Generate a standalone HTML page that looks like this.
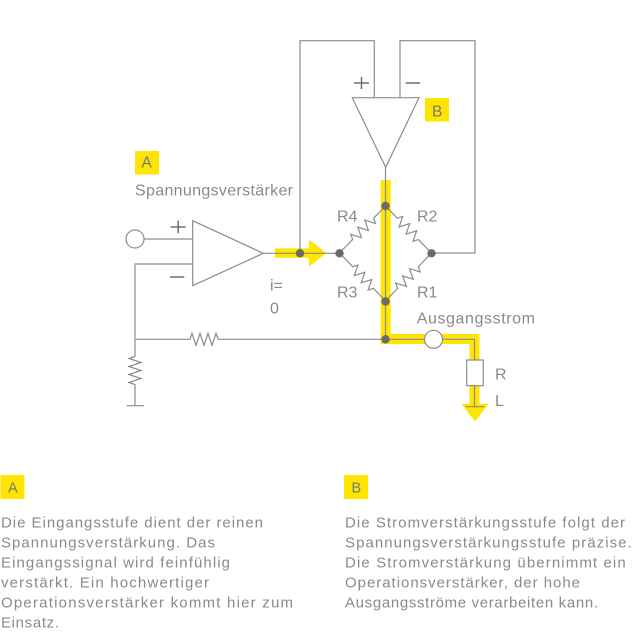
<!DOCTYPE html>
<html><head><meta charset="utf-8">
<style>
html,body{margin:0;padding:0;background:#fff;}
svg{display:block;}
text{font-family:"Liberation Sans",sans-serif;fill:#8a8a8a;}
</style></head>
<body>
<svg width="644" height="644" viewBox="0 0 644 644" xmlns="http://www.w3.org/2000/svg">
<!-- yellow highlights -->
<g fill="#ffe500">
  <rect x="275" y="248.3" width="35" height="9.5"/>
  <polygon points="309,239.5 326.5,253 309,266.5"/>
  <rect x="380.7" y="180" width="10" height="164"/>
  <rect x="380.7" y="334" width="98.8" height="10"/>
  <rect x="469.5" y="334" width="10" height="72"/>
  <polygon points="461.5,404 488.5,404 475,421.5"/>
</g>
<!-- gray wiring -->
<g fill="none" stroke="#8c8c8c" stroke-width="1.2">
  <polyline points="300,253 300,40.7 374.3,40.7 374.3,97.7"/>
  <polyline points="400,97.7 400,40.7 475,40.7 475,253 431.5,253"/>
  <polygon points="352.3,97.7 419,97.7 385.7,167.3" fill="#fff"/>
  <line x1="385.5" y1="167.3" x2="385.5" y2="339"/>
  <line x1="144" y1="239" x2="192.7" y2="239"/>
  <polygon points="192.7,220.7 192.7,285.7 263.3,253.3" fill="#fff"/>
  <line x1="263.3" y1="253.3" x2="339.5" y2="253.3"/>
  <polyline points="192.7,264 135,264 135,356.5 129,358.5 141,362.5 129,366.5 141,370.5 129,374.5 141,378.5 129,382.5 135,384.5 135,405.7"/>
  <line x1="126.7" y1="405.7" x2="144" y2="405.7"/>
  <polyline points="135,339.3 190,339.3 192,333.3 196,345.3 200,333.3 204,345.3 208,333.3 212,345.3 216,333.3 218.3,339.3 385.5,339.3"/>
  <polyline points="385.5,339.3 474.5,339.3 474.5,360"/>
  <rect x="466.7" y="360" width="16.6" height="25.7" fill="#fff"/>
  <line x1="474.5" y1="385.7" x2="474.5" y2="406.7"/>
  <line x1="465.7" y1="406.7" x2="484" y2="406.7"/>
  <circle cx="135" cy="239" r="9" fill="#fff"/>
  <circle cx="433.5" cy="339.3" r="9" fill="#fff"/>
  <!-- bridge resistors -->
  <g transform="translate(385.5,206) rotate(134.4)">
    <polyline points="0,0 17,0 19.5,-5 24.5,5 29.5,-5 34.5,5 39.5,-5 44.5,5 47,0 65.8,0"/>
  </g>
  <g transform="translate(385.5,206) rotate(45.6)">
    <polyline points="0,0 17,0 19.5,-5 24.5,5 29.5,-5 34.5,5 39.5,-5 44.5,5 47,0 65.8,0"/>
  </g>
  <g transform="translate(339.5,253) rotate(46.2)">
    <polyline points="0,0 19,0 21.5,-5 26.5,5 31.5,-5 36.5,5 41.5,-5 46.5,5 49,0 66.5,0"/>
  </g>
  <g transform="translate(431.5,253) rotate(133.8)">
    <polyline points="0,0 19,0 21.5,-5 26.5,5 31.5,-5 36.5,5 41.5,-5 46.5,5 49,0 66.5,0"/>
  </g>
</g>
<!-- plus/minus -->
<g stroke="#6e6e6e" stroke-width="1.5" fill="none">
  <line x1="170.7" y1="227" x2="185.7" y2="227"/>
  <line x1="178.2" y1="220.7" x2="178.2" y2="233.3"/>
  <line x1="170" y1="277" x2="184.3" y2="277"/>
  <line x1="354" y1="83" x2="369" y2="83"/>
  <line x1="361.5" y1="77" x2="361.5" y2="89"/>
  <line x1="405.7" y1="83" x2="420" y2="83"/>
</g>
<!-- nodes -->
<g fill="#6b6b6b">
  <circle cx="300" cy="253.3" r="4.2"/>
  <circle cx="339.5" cy="253.3" r="4.2"/>
  <circle cx="385.5" cy="206" r="4.2"/>
  <circle cx="431.5" cy="253.3" r="4.2"/>
  <circle cx="385.5" cy="301.5" r="4.2"/>
  <circle cx="385.5" cy="339.3" r="4.2"/>
</g>
<!-- label boxes -->
<g fill="#ffe500">
  <rect x="135" y="151" width="24" height="23.5"/>
  <rect x="425" y="98" width="24" height="23.5"/>
  <rect x="0.5" y="475" width="24" height="24"/>
  <rect x="344" y="475" width="24" height="24"/>
</g>
<g font-size="15.5">
  <text x="141.5" y="167.7" style="fill:#777">A</text>
  <text x="432" y="116.3" style="fill:#777">B</text>
</g>
<g font-size="14.5">
  <text x="8" y="492.7" style="fill:#777">A</text>
  <text x="351.5" y="492.7" style="fill:#777">B</text>
</g>
<!-- diagram labels -->
<g font-size="16">
  <text x="135" y="195.7" textLength="158">Spannungsverstärker</text>
  <text x="337" y="221.7">R4</text>
  <text x="417" y="221.7">R2</text>
  <text x="337" y="297.3">R3</text>
  <text x="417" y="297.3">R1</text>
  <text x="270" y="290.7">i=</text>
  <text x="270" y="313.3">0</text>
  <text x="416.7" y="323.3" textLength="118.3">Ausgangsstrom</text>
  <text x="495" y="379.3">R</text>
  <text x="495" y="406">L</text>
</g>
<!-- paragraphs -->
<g font-size="15">
  <text x="1" y="527.3" textLength="262">Die Eingangsstufe dient der reinen</text>
  <text x="1" y="547.3" textLength="214">Spannungsverstärkung. Das</text>
  <text x="1" y="567.3" textLength="229">Eingangssignal wird feinfühlig</text>
  <text x="1" y="587.3" textLength="208">verstärkt. Ein hochwertiger</text>
  <text x="1" y="607.3" textLength="292">Operationsverstärker kommt hier zum</text>
  <text x="1" y="627.3" textLength="58">Einsatz.</text>
  <text x="345" y="527.3" textLength="280">Die Stromverstärkungsstufe folgt der</text>
  <text x="345" y="547.3" textLength="286.7">Spannungsverstärkungsstufe präzise.</text>
  <text x="345" y="567.3" textLength="280.7">Die Stromverstärkung übernimmt ein</text>
  <text x="345" y="587.3" textLength="235">Operationsverstärker, der hohe</text>
  <text x="345" y="607.3" textLength="253">Ausgangsströme verarbeiten kann.</text>
</g>
</svg>
</body></html>
